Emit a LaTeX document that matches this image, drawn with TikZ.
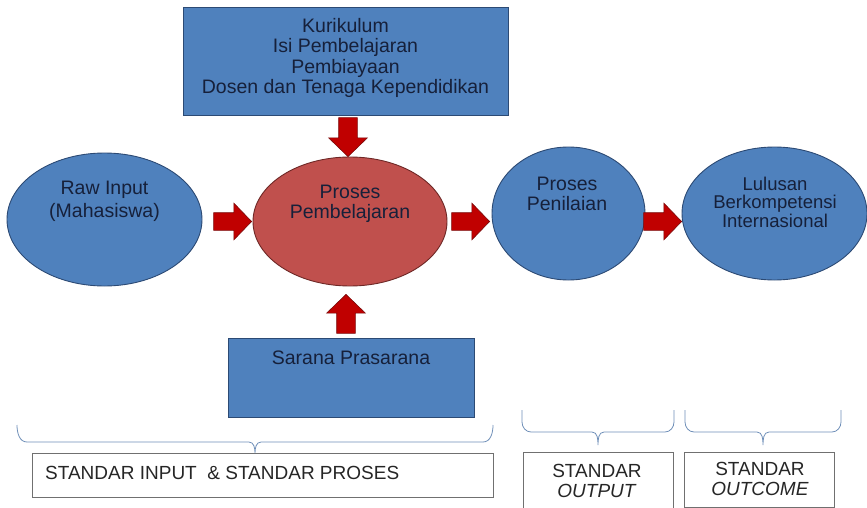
\documentclass[tikz,border=0pt]{standalone}
\usepackage{fontspec}
\setmainfont{Liberation Sans}
\usetikzlibrary{shapes.geometric,shapes.arrows}
\definecolor{boxblue}{HTML}{4F81BD}
\definecolor{boxblueline}{HTML}{2C4A74}
\definecolor{ellred}{HTML}{C0504D}
\definecolor{ellredline}{HTML}{6E2826}
\definecolor{arrred}{HTML}{C00000}
\definecolor{arrredline}{HTML}{7A0A0A}
\definecolor{navytext}{HTML}{16203A}
\definecolor{bracecol}{HTML}{6F8FB8}
\definecolor{stdline}{HTML}{707070}
\definecolor{stdtext}{HTML}{262626}
\tikzset{
  bluebox/.style={draw=boxblueline, fill=boxblue, line width=0.9pt, inner sep=0pt},
  blueell/.style={ellipse, draw=boxblueline, fill=boxblue, line width=0.9pt, inner sep=0pt},
  redell/.style={ellipse, draw=ellredline, fill=ellred, line width=0.9pt, inner sep=0pt},
  shapetext/.style={text=navytext, align=center, inner sep=0pt, font=\fontsize{19.5}{20.5}\selectfont},
  arrowbase/.style={single arrow, draw=arrredline, fill=arrred, line width=0.6pt,
     inner sep=0pt, single arrow tip angle=92, minimum height=38pt},
  harrow/.style={arrowbase, text height=8.5pt, text depth=8.5pt, single arrow head extend=9.5pt},
  varrow/.style={arrowbase, text width=18pt, text height=0pt, text depth=0pt, single arrow head extend=10pt, minimum height=39pt},
  stdbox/.style={draw=stdline, line width=0.8pt, inner sep=0pt},
  stdtxt/.style={text=stdtext, inner sep=0pt, font=\fontsize{19}{20}\selectfont},
  bracepath/.style={draw=bracecol, line width=0.8pt}
}
\begin{document}
\begin{tikzpicture}[x=1pt,y=-1pt]
\useasboundingbox (0,0) rectangle (867,508);
% top box
\node[bluebox, minimum width=325pt, minimum height=108pt] (top) at (345.5,61) {};
\node[shapetext] (toptxt) at (345.5,58) {Kurikulum\\Isi Pembelajaran\\Pembiayaan\\Dosen dan Tenaga Kependidikan};
% ellipses
\node[blueell, minimum width=195pt, minimum height=133pt] (raw) at (104.5,219.5) {};
\node[shapetext, font=\fontsize{19.5}{23}\selectfont] (rawtxt) at (104.5,201) {Raw Input\\(Mahasiswa)};
\node[redell, minimum width=194pt, minimum height=129pt] (pem) at (350,221.5) {};
\node[shapetext, font=\fontsize{19.5}{20}\selectfont] (pemtxt) at (350,203.5) {Proses\\Pembelajaran};
\node[blueell, minimum width=153pt, minimum height=133pt] (pen) at (568.5,213.5) {};
\node[shapetext, font=\fontsize{19.5}{20}\selectfont] (pentxt) at (567,193.5) {Proses\\Penilaian};
\node[blueell, minimum width=185pt, minimum height=133pt] (lul) at (774.5,213.5) {};
\node[shapetext, font=\fontsize{18.5}{18.5}\selectfont] (lultxt) at (775,202) {Lulusan\\Berkompetensi\\Internasional};
% bottom box
\node[bluebox, minimum width=246pt, minimum height=79pt] (sar) at (351,377.5) {};
\node[shapetext] (sartxt) at (351,357.5) {Sarana Prasarana};
% block arrows
\node[harrow, anchor=tip] (a1) at (252,221.5) {};
\node[harrow, anchor=tip] (a2) at (490,221.5) {};
\node[harrow, anchor=tip] (a3) at (682,221.5) {};
\node[varrow, anchor=tip, shape border rotate=270] (a4) at (348,157) {};
\node[varrow, anchor=tip, shape border rotate=90] (a5) at (346,294) {};
% standard boxes
\node[stdbox, minimum width=461pt, minimum height=44pt] (s1) at (262.5,475) {};
\node[stdtxt, anchor=west] (s1txt) at (45,472.5) {STANDAR INPUT\ \ \& STANDAR PROSES};
\node[stdbox, minimum width=150pt, minimum height=56pt] (s2) at (598,480) {};
\node[stdtxt, align=center] (s2txt) at (597,480.5) {STANDAR\\\textit{OUTPUT}};
\node[stdbox, minimum width=150pt, minimum height=55pt] (s3) at (759,479.5) {};
\node[stdtxt, align=center] (s3txt) at (760,478.5) {STANDAR\\\textit{OUTCOME}};
% braces
\coordinate (b1t) at (255,453);
\draw[bracepath] (17,425) to[out=-90,in=180] (27,442) -- (249,442) to[out=0,in=90] (b1t)
  (b1t) to[out=90,in=180] (261,442) -- (483,442) to[out=0,in=-90] (493,425);
\coordinate (b2t) at (598,445);
\draw[bracepath] (522,410) -- (522,422) to[out=-90,in=180] (531,432) -- (592,432) to[out=0,in=90] (b2t)
  (b2t) to[out=90,in=180] (604,432) -- (665,432) to[out=0,in=-90] (674,422) -- (674,410);
\coordinate (b3t) at (763,445);
\draw[bracepath] (685,410) -- (685,422) to[out=-90,in=180] (694,432) -- (757,432) to[out=0,in=90] (b3t)
  (b3t) to[out=90,in=180] (769,432) -- (832,432) to[out=0,in=-90] (841,422) -- (841,410);
\end{tikzpicture}
\end{document}
